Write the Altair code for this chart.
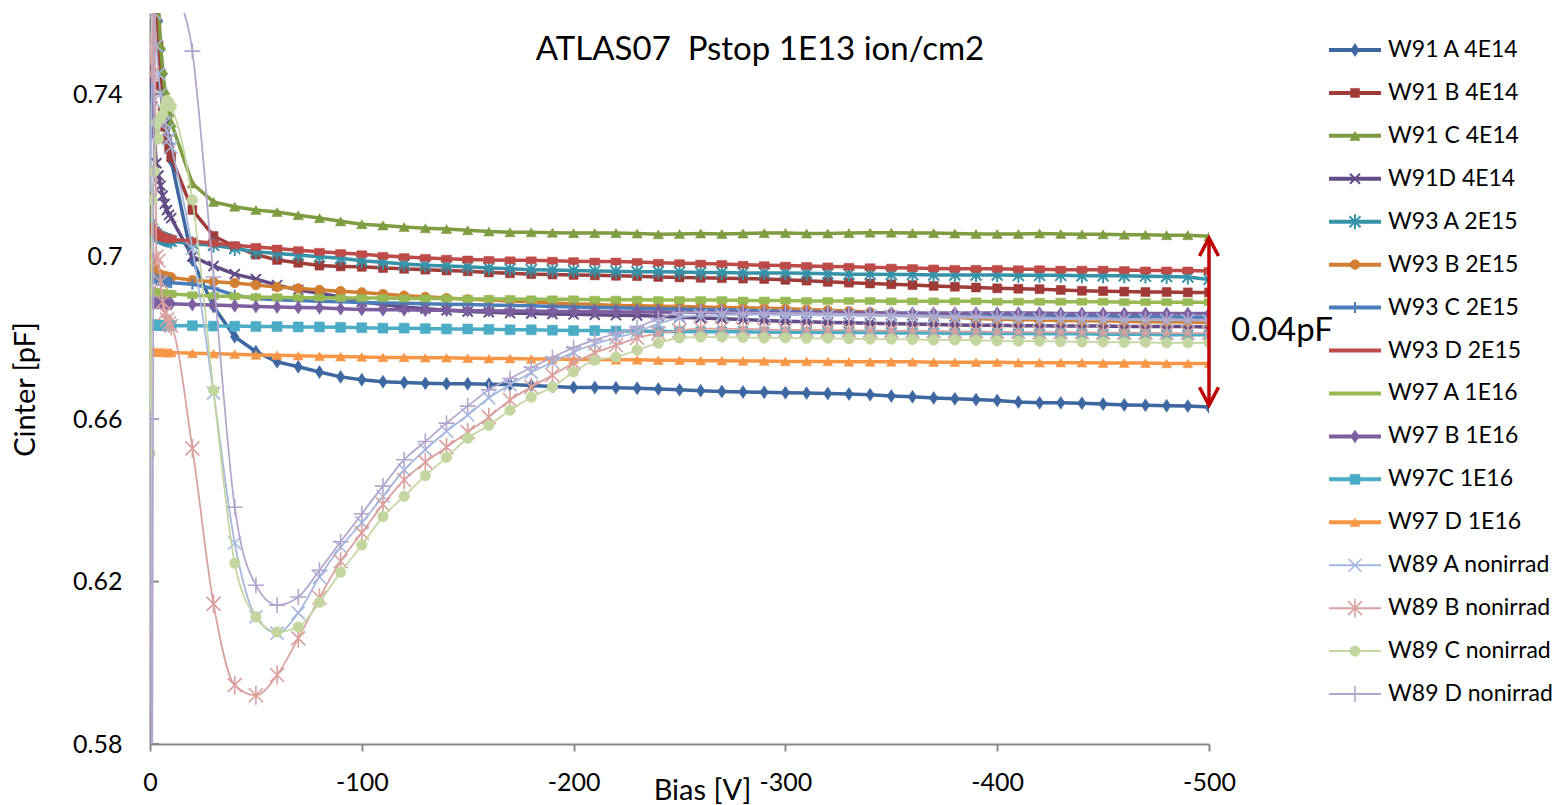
import altair as alt
import pandas as pd

FONT = "Lato"

BIAS_V = [0, -1, -2, -3, -4, -5, -6, -7, -8, -9, -10,
          -20, -30, -40, -50, -60, -70, -80, -90, -100,
          -110, -120, -130, -140, -150, -160, -170, -180, -190, -200,
          -210, -220, -230, -240, -250, -260, -270, -280, -290, -300,
          -310, -320, -330, -340, -350, -360, -370, -380, -390, -400,
          -410, -420, -430, -440, -450, -460, -470, -480, -490, -500]

SERIES = ["W91 A 4E14", "W91 B 4E14", "W91 C 4E14", "W91D 4E14",
          "W93 A 2E15", "W93 B 2E15", "W93 C 2E15", "W93 D 2E15",
          "W97 A 1E16", "W97 B 1E16", "W97C 1E16", "W97 D 1E16",
          "W89 A nonirrad", "W89 B nonirrad", "W89 C nonirrad", "W89 D nonirrad"]

W91A = [.790, .782, .774, .766, .758, .751, .745, .739, .733, .728, .7237,
        .6992, .6877, .6803, .6766, .6741, .6729, .6716, .6704, .6697,
        .6692, .6690, .6688, .6687, .6687, .6686, .6685, .6683, .6680, .6678,
        .6678, .6677, .6676, .6674, .6672, .6670, .6668, .6667, .6666, .6665,
        .6664, .6663, .6662, .6660, .6657, .6655, .6652, .6650, .6648, .6646,
        .6642, .6640, .6640, .6639, .6637, .6635, .6634, .6633, .6632, .6630]
W91B = [.800, .790, .778, .765, .752, .742, .736, .732, .729, .7265, .7245,
        .7115, .7051, .7025, .7005, .6992, .6985, .6978, .6976, .6975,
        .6972, .6970, .6968, .6966, .6964, .6961, .6959, .6957, .6956, .6955,
        .6954, .6953, .6952, .6950, .6949, .6948, .6947, .6946, .6945, .6943,
        .6941, .6938, .6936, .6934, .6932, .6930, .6928, .6926, .6924, .6922,
        .6921, .6920, .6918, .6916, .6915, .6914, .6913, .6913, .6912, .6912]
W91C = [.800, .790, .780, .770, .762, .752, .746, .741, .738, .7355, .733,
        .718, .7135, .7123, .7115, .7110, .7102, .7095, .7087, .7080,
        .7077, .7073, .7070, .7068, .7065, .7062, .7060, .7060, .7059, .7058,
        .7058, .7058, .7057, .7055, .7056, .7057, .7056, .7057, .7058, .7058,
        .7057, .7057, .7058, .7059, .7059, .7058, .7058, .7057, .7056, .7056,
        .7056, .7057, .7056, .7055, .7055, .7054, .7054, .7053, .7053, .7050]
W91D = [.747, .739, .730, .723, .720, .7175, .715, .713, .7115, .7103, .7095,
        .7000, .6977, .6957, .6945, .6930, .6918, .6910, .6901, .6889,
        .6882, .6876, .6872, .6868, .6865, .6863, .6861, .6860, .6859, .6858,
        .6857, .6856, .6855, .6853, .6851, .6849, .6847, .6845, .6843, .6841,
        .6840, .6838, .6837, .6836, .6835, .6834, .6833, .6832, .6831, .6831,
        .6830, .6830, .6829, .6829, .6829, .6828, .6828, .6828, .6828, .6827]
W93A = [.7078, .7068, .7060, .7055, .7050, .7047, .7045, .7043, .7041, .7040, .7038,
        .7032, .7028, .7020, .7012, .7008, .7004, .7000, .6996, .6990,
        .6986, .6982, .6979, .6977, .6975, .6972, .6970, .6968, .6967, .6966,
        .6965, .6964, .6963, .6963, .6962, .6961, .6961, .6960, .6960, .6960,
        .6959, .6958, .6957, .6957, .6956, .6956, .6955, .6955, .6955, .6955,
        .6954, .6954, .6954, .6953, .6953, .6953, .6952, .6951, .6950, .6944]
W93B = [.6998, .6985, .6972, .6963, .6958, .6955, .6953, .6952, .6951, .6950, .6949,
        .6942, .6938, .6935, .6930, .6925, .6922, .6918, .6915, .6912,
        .6908, .6904, .6901, .6898, .6895, .6893, .6891, .6889, .6886, .6884,
        .6882, .6880, .6879, .6878, .6877, .6876, .6875, .6874, .6873, .6872,
        .6870, .6868, .6866, .6863, .6860, .6857, .6854, .6851, .6848, .6846,
        .6845, .6844, .6843, .6842, .6842, .6841, .6840, .6840, .6839, .6838]
W93C = [.6950, .6948, .6946, .6944, .6942, .6941, .6940, .6939, .6938, .6937, .6936,
        .6932, .6922, .6905, .6897, .6894, .6892, .6890, .6889, .6887,
        .6886, .6885, .6884, .6883, .6882, .6881, .6880, .6879, .6877, .6876,
        .6875, .6874, .6873, .6872, .6871, .6870, .6869, .6868, .6866, .6865,
        .6864, .6863, .6862, .6861, .6860, .6859, .6858, .6857, .6856, .6855,
        .6855, .6854, .6854, .6853, .6853, .6853, .6852, .6852, .6851, .6851]
W93D = [.7075, .7068, .7062, .7057, .7053, .7050, .7048, .7046, .7045, .7044, .7043,
        .7038, .7033, .7028, .7024, .7020, .7016, .7012, .7009, .7006,
        .7002, .6999, .6997, .6995, .6993, .6992, .6991, .6991, .6990, .6989,
        .6988, .6988, .6987, .6985, .6984, .6983, .6982, .6980, .6979, .6978,
        .6977, .6976, .6975, .6974, .6973, .6972, .6971, .6970, .6970, .6970,
        .6969, .6969, .6968, .6968, .6968, .6967, .6966, .6966, .6966, .6965]
W97A = [.6915, .6914, .6913, .6912, .6911, .6910, .6910, .6909, .6909, .6908, .6908,
        .6905, .6903, .6902, .6900, .6900, .6899, .6899, .6898, .6898,
        .6898, .6897, .6897, .6897, .6896, .6896, .6896, .6895, .6895, .6895,
        .6894, .6894, .6894, .6893, .6893, .6893, .6893, .6892, .6892, .6892,
        .6891, .6891, .6891, .6891, .6890, .6890, .6890, .6890, .6890, .6889,
        .6889, .6889, .6889, .6889, .6889, .6888, .6888, .6888, .6888, .6888]
W97B = [.6887, .6887, .6886, .6886, .6886, .6885, .6885, .6885, .6884, .6884, .6884,
        .6882, .6881, .6879, .6877, .6876, .6875, .6874, .6872, .6870,
        .6869, .6869, .6868, .6868, .6867, .6867, .6866, .6866, .6865, .6865,
        .6865, .6864, .6864, .6864, .6863, .6863, .6863, .6863, .6862, .6862,
        .6862, .6862, .6862, .6861, .6861, .6861, .6861, .6861, .6861, .6861,
        .6861, .6861, .6860, .6860, .6860, .6860, .6860, .6860, .6860, .6860]
W97C = [.6832, .6832, .6832, .6831, .6831, .6831, .6831, .6831, .6830, .6830, .6830,
        .6830, .6829, .6829, .6828, .6828, .6827, .6827, .6826, .6825,
        .6824, .6824, .6823, .6822, .6822, .6821, .6820, .6820, .6819, .6818,
        .6818, .6817, .6817, .6816, .6816, .6815, .6815, .6815, .6814, .6814,
        .6814, .6813, .6813, .6813, .6812, .6812, .6812, .6811, .6811, .6811,
        .6811, .6810, .6810, .6810, .6809, .6809, .6809, .6808, .6808, .6808]
W97D = [.6766, .6766, .6766, .6765, .6765, .6765, .6765, .6764, .6764, .6764, .6764,
        .6762, .6761, .6760, .6758, .6757, .6756, .6755, .6754, .6753,
        .6752, .6752, .6751, .6751, .6750, .6749, .6749, .6748, .6748, .6747,
        .6747, .6746, .6746, .6745, .6745, .6744, .6744, .6743, .6743, .6742,
        .6742, .6742, .6741, .6741, .6741, .6741, .6740, .6740, .6740, .6740,
        .6739, .6739, .6739, .6739, .6738, .6738, .6738, .6737, .6737, .6737]
W89A = [.7165, .745, .760, .752, .745, .740, .736, .733, .731, .729, .727,
        .702, .6664, .6295, .6113, .6073, .6123, .6211, .6285, .6345,
        .641, .6475, .6525, .657, .661, .6652, .6685, .6715, .674, .6765,
        .6785, .680, .6815, .6835, .685, .6855, .6856, .6857, .6857, .6856,
        .6856, .6855, .6855, .6854, .6853, .6852, .6851, .6850, .6849, .6848,
        .6847, .6846, .6846, .6845, .6845, .6844, .6844, .6843, .6843, .6842]
W89B = [.753, .745, .780, .700, .699, .6938, .6889, .6861, .6845, .6836, .683,
        .6528, .6145, .5945, .592, .597, .606, .616, .625, .632,
        .639, .645, .6494, .6531, .6568, .6605, .6647, .6679, .6708, .6738,
        .6763, .6782, .680, .6811, .6818, .6823, .6823, .6822, .6821, .6820,
        .6820, .6819, .6819, .6818, .6818, .6817, .6817, .6816, .6816, .6815,
        .6815, .6814, .6814, .6814, .6813, .6813, .6813, .6812, .6812, .6812]
W89C = [.6515, .714, .721, .733, .729, .734, .735, .737, .7385, .738, .737,
        .714, .6671, .6245, .6113, .6076, .6088, .6149, .6223, .629,
        .636, .641, .6461, .6506, .6553, .6585, .6622, .6654, .6679, .6716,
        .6745, .6753, .677, .6787, .680, .6802, .6802, .6801, .6800, .6800,
        .6799, .6799, .6798, .6797, .6797, .6796, .6795, .6795, .6794, .6793,
        .6792, .6792, .6791, .6790, .6790, .6789, .6789, .6788, .6788, .6788]
W89D = [.660, .560, .800, .810, .815, .815, .810, .805, .795, .785, .775,
        .7506, .695, .6383, .6191, .6142, .6162, .6228, .6298, .6367,
        .6435, .650, .6545, .659, .6632, .6672, .670, .6727, .6752, .6776,
        .6795, .6811, .6826, .6847, .6862, .6863, .6863, .6862, .6862, .6861,
        .6861, .6860, .6859, .6858, .6857, .6856, .6855, .6854, .6853, .6852,
        .6851, .6850, .6849, .6849, .6848, .6847, .6846, .6846, .6845, .6845]

VALUES = [W91A, W91B, W91C, W91D, W93A, W93B, W93C, W93D,
          W97A, W97B, W97C, W97D, W89A, W89B, W89C, W89D]

COLORS = ["#3C67A0", "#A13B38", "#7E9C40", "#634C85", "#3592A8", "#D27F32",
          "#4A7EBB", "#BE4B48", "#98BA54", "#7D5FA0", "#4BACC6", "#F79646",
          "#A4B8DE", "#D9A09E", "#C3D6A0", "#B3A6CC"]

MARKERS = ["diamond", "square", "triangle", "x", "asterisk", "circle", "plus", "dash",
           "dash", "diamond", "square", "triangle", "x", "asterisk", "circle", "plus"]

X_TICKS = [0, -100, -200, -300, -400, -500]
Y_TICKS = [0.58, 0.62, 0.66, 0.70, 0.74]
TITLE = "ATLAS07 \u00a0Pstop 1E13 ion/cm2"
DELTA_LABEL = "0.04pF"
ARROW_X = -500
ARROW_TOP = 0.7046
ARROW_BOTTOM = 0.6634
DELTA_LABEL_Y = 0.6817

SHAPE_PATHS = {
    "diamond": ("M0,-1.2L0.8,0L0,1.2L-0.8,0Z", True),
    "square": ("square", True),
    "triangle": ("triangle-up", True),
    "x": ("M-1,-1L1,1M-1,1L1,-1", False),
    "asterisk": ("M-1,-1L1,1M-1,1L1,-1M0,-1.35L0,1.35", False),
    "circle": ("circle", True),
    "plus": ("M-1,0L1,0M0,-1L0,1", False),
    "dash": ("M-1,-0.7L1,-0.7L1,0.7L-1,0.7Z", True),
}
MARKER_SIZES = [117, 81, 110, 100, 121, 95, 121, 100,
                100, 117, 100, 100, 169, 196, 113, 256]

rows = []
for name, vals in zip(SERIES, VALUES):
    for v, c in zip(BIAS_V, vals):
        rows.append({"series": name, "bias": v, "cinter": c})
df = pd.DataFrame(rows)

GRAY = "#878787"
xscale = alt.Scale(domain=[0, -500], nice=False, zero=False)
yscale = alt.Scale(domain=[0.58, 0.76], nice=False, zero=False)

x_axis = alt.Axis(values=X_TICKS, grid=False, domainColor=GRAY, domainWidth=2,
                  tickColor=GRAY, tickWidth=2, tickSize=7, labelPadding=19,
                  labelFlush=False,
                  labelFont=FONT, labelFontSize=25, labelColor="black",
                  labelExpr="datum.value == 0 ? '0' : '-' + abs(datum.value)",
                  title="Bias [V]", titleFont=FONT, titleFontSize=29,
                  titleFontWeight="normal", titleColor="black",
                  titleX=552, titleY=46, titleBaseline="middle", titleAlign="center")
y_axis = alt.Axis(values=Y_TICKS, grid=False, domainColor=GRAY, domainWidth=2,
                  ticks=False, tickSize=0, labelPadding=28, labelFlush=False,
                  labelFont=FONT, labelFontSize=25, labelColor="black",
                  labelExpr="'' + round(datum.value * 100) / 100",
                  title="Cinter [pF]", titleFont=FONT, titleFontSize=29,
                  titleFontWeight="normal", titleColor="black",
                  titleX=-125, titleY=376, titleAngle=-90,
                  titleBaseline="middle", titleAlign="center")

x_enc = alt.X("bias:Q", scale=xscale, axis=x_axis)
y_enc = alt.Y("cinter:Q", scale=yscale, axis=y_axis)

layers = []
# inside y ticks
ytick_df = pd.DataFrame({"cinter": Y_TICKS})
layers.append(alt.Chart(ytick_df).mark_rule(color=GRAY, strokeWidth=2).encode(
    y=y_enc, x=alt.value(0), x2=alt.value(9)))

for i, name in enumerate(SERIES):
    color = COLORS[i]
    nonirr = i >= 12
    lw = 1.75 if nonirr else 3.5
    base = alt.Chart(df).transform_filter(alt.datum.series == name)
    layers.append(base.mark_line(color=color, strokeWidth=lw, clip=True,
                                 interpolate="monotone" if nonirr else "linear").encode(
        x=x_enc, y=y_enc))
    shape, filled = SHAPE_PATHS[MARKERS[i]]
    if filled:
        pm = base.mark_point(shape=shape, filled=True, fill=color, stroke=color,
                             strokeWidth=0.5, size=MARKER_SIZES[i], opacity=1, clip=True)
    else:
        pm = base.mark_point(shape=shape, filled=False, stroke=color,
                             strokeWidth=1.6 if nonirr else 2, size=MARKER_SIZES[i],
                             opacity=1, clip=True)
    layers.append(pm.encode(x=x_enc, y=y_enc))

# red double arrow
arrow_df = pd.DataFrame({"bias": [ARROW_X], "cinter": [ARROW_TOP], "cinter2": [ARROW_BOTTOM]})
layers.append(alt.Chart(arrow_df).mark_rule(color="#C00000", strokeWidth=3.5).encode(
    x=x_enc, y=y_enc, y2="cinter2:Q"))
head_top = pd.DataFrame({"bias": [ARROW_X], "cinter": [ARROW_TOP]})
head_bot = pd.DataFrame({"bias": [ARROW_X], "cinter": [ARROW_BOTTOM]})
layers.append(alt.Chart(head_top).mark_point(shape="M-1,1.9L0,0L1,1.9", filled=False,
                                             stroke="#C00000", strokeWidth=3.5, size=361,
                                             opacity=1).encode(x=x_enc, y=y_enc))
layers.append(alt.Chart(head_bot).mark_point(shape="M-1,-1.9L0,0L1,-1.9", filled=False,
                                             stroke="#C00000", strokeWidth=3.5, size=361,
                                             opacity=1).encode(x=x_enc, y=y_enc))
lab_df = pd.DataFrame({"bias": [ARROW_X], "cinter": [DELTA_LABEL_Y], "label": [DELTA_LABEL]})
layers.append(alt.Chart(lab_df).mark_text(align="left", baseline="middle", dx=22,
                                          font=FONT, fontSize=33, color="black").encode(
    x=x_enc, y=y_enc, text="label:N"))

title_df = pd.DataFrame({"label": [TITLE]})
layers.append(alt.Chart(title_df).mark_text(align="center", baseline="middle",
                                            font=FONT, fontSize=33, color="black").encode(
    x=alt.value(610), y=alt.value(37), text="label:N"))

main = alt.layer(*layers).properties(width=1059, height=731)

# legend
leg_y = alt.Y("series:N", sort=SERIES,
              scale=alt.Scale(type="point", domain=SERIES, range=[37, 681], padding=0),
              axis=None)
leg_layers = []
for i, name in enumerate(SERIES):
    color = COLORS[i]
    nonirr = i >= 12
    ld = pd.DataFrame({"series": [name]})
    leg_layers.append(alt.Chart(ld).mark_rule(color=color, strokeWidth=2 if nonirr else 4).encode(
        y=leg_y, x=alt.value(10), x2=alt.value(62)))
    if MARKERS[i] != "dash":
        shape, filled = SHAPE_PATHS[MARKERS[i]]
        if filled:
            pm = alt.Chart(ld).mark_point(shape=shape, filled=True, fill=color, stroke=color,
                                          strokeWidth=0.5, size=MARKER_SIZES[i], opacity=1)
        else:
            pm = alt.Chart(ld).mark_point(shape=shape, filled=False, stroke=color,
                                          strokeWidth=1.6 if nonirr else 2,
                                          size=MARKER_SIZES[i], opacity=1)
        leg_layers.append(pm.encode(y=leg_y, x=alt.value(36)))
    leg_layers.append(alt.Chart(ld).mark_text(align="left", baseline="middle", font=FONT,
                                              fontSize=23, color="black").encode(
        y=leg_y, x=alt.value(69), text="series:N"))

legend = alt.layer(*leg_layers).properties(width=240, height=731)

chart = alt.hconcat(main, legend, spacing=110, bounds="flush").properties(
    padding={"left": 11, "top": 13, "right": 0, "bottom": 0},
    background="white"
).configure_view(strokeWidth=0)

chart.save("out.html", embed_options={"renderer": "svg", "actions": False})
